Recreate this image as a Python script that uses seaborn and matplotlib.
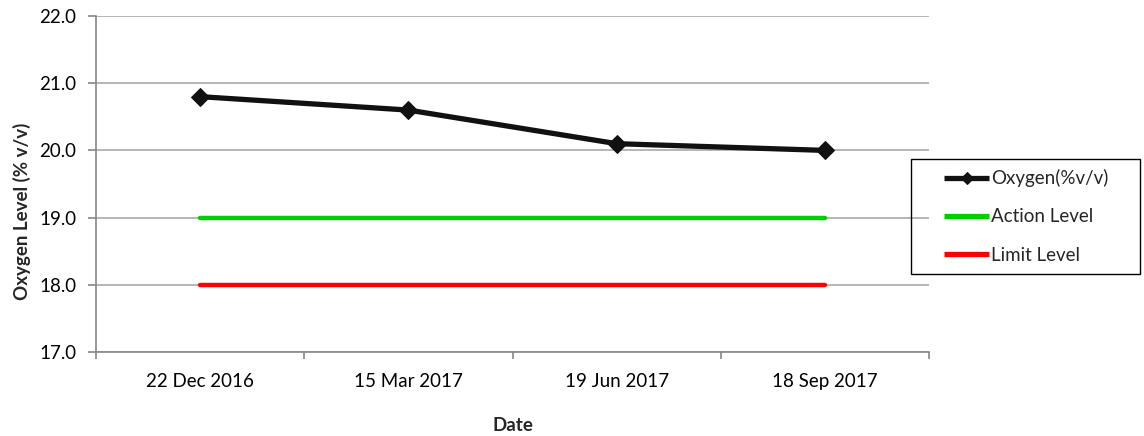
import matplotlib
matplotlib.use("Agg")
import matplotlib.pyplot as plt
import seaborn as sns
import pandas as pd
import numpy as np
from matplotlib.ticker import FixedLocator, NullFormatter, FixedFormatter
from matplotlib.patches import Rectangle

dates = ["22 Dec 2016", "15 Mar 2017", "19 Jun 2017", "18 Sep 2017"]
oxygen = [20.8, 20.6, 20.1, 20.0]
action_level = [19.0, 19.0, 19.0, 19.0]
limit_level = [18.0, 18.0, 18.0, 18.0]
y_ticks = [17.0, 18.0, 19.0, 20.0, 21.0, 22.0]

sns.set_theme(style="white")
plt.rcParams["font.family"] = ["Lato", "DejaVu Sans"]

FS = 13.5
W, H = 1144, 436
fig = plt.figure(figsize=(W / 100, H / 100), dpi=100)
ax = fig.add_axes([96 / W, 1 - 352 / H, (929 - 96) / W, (352 - 16) / H])

pos = np.arange(len(dates))
df = pd.DataFrame({"pos": pos, "oxy": oxygen, "act": action_level, "lim": limit_level})

sns.lineplot(data=df, x="pos", y="oxy", ax=ax, color="#111111", lw=3.8,
             marker="D", markersize=9, markeredgecolor="#111111",
             label="Oxygen(%v/v)", zorder=5)
sns.lineplot(data=df, x="pos", y="act", ax=ax, color="#00cc00", lw=3.2,
             label="Action Level", zorder=4, solid_capstyle="round")
sns.lineplot(data=df, x="pos", y="lim", ax=ax, color="#ff0000", lw=3.2,
             label="Limit Level", zorder=4, solid_capstyle="round")

ax.set_xlim(-0.5, len(dates) - 0.5)
ax.set_ylim(17, 22)
ax.set_yticks(y_ticks)
ax.set_yticklabels([f"{v:.1f}" for v in y_ticks])

ax.xaxis.set_major_locator(FixedLocator(np.arange(-0.5, len(dates), 1.0)))
ax.xaxis.set_major_formatter(NullFormatter())
ax.xaxis.set_minor_locator(FixedLocator(pos))
ax.xaxis.set_minor_formatter(FixedFormatter(dates))
ax.tick_params(axis="x", which="major", length=5, width=1.2, color="#868686", direction="out", bottom=True)
ax.tick_params(axis="x", which="minor", length=0, pad=15, labelsize=FS, labelcolor="#000000")
ax.tick_params(axis="y", length=6, width=1.2, color="#868686", direction="out", left=True,
               pad=8, labelsize=FS, labelcolor="#000000")

ax.grid(axis="y", color="#b0b0b0", lw=1.3)
ax.grid(axis="x", visible=False)
ax.set_axisbelow(True)
for s in ["top", "right"]:
    ax.spines[s].set_visible(False)
for s in ["left", "bottom"]:
    ax.spines[s].set_color("#868686")
    ax.spines[s].set_linewidth(1.2)

ax.set_xlabel("Date", fontsize=FS, fontweight="bold")
ax.set_ylabel("Oxygen Level (% v/v)", fontsize=FS, fontweight="bold")
ax.xaxis.set_label_coords(0.5, (352 - 417) / 336)
ax.yaxis.set_label_coords((31 - 96) / 833, (352 - 211) / 336)

handles, labels = ax.get_legend_handles_labels()
ax.legend_.remove()
# legend frame
fig.patches.append(Rectangle((911 / W, 1 - 274 / H), (1140 - 911) / W, (274 - 159) / H,
                             transform=fig.transFigure, fill=False, edgecolor="#000000",
                             lw=1.0, zorder=3))
leg = fig.legend(handles, labels, loc="upper left",
                 bbox_to_anchor=(944 / W, 1 - 169 / H), bbox_transform=fig.transFigure,
                 frameon=False, fontsize=FS, handlelength=2.4, handletextpad=0.12,
                 labelspacing=1.14, borderpad=0, borderaxespad=0)
for h in leg.legend_handles:
    h.set_markersize(6.5)
    h.set_linewidth(3.8)
    h.set_solid_capstyle("butt")

fig.savefig("out.png", dpi=100, facecolor="white")
